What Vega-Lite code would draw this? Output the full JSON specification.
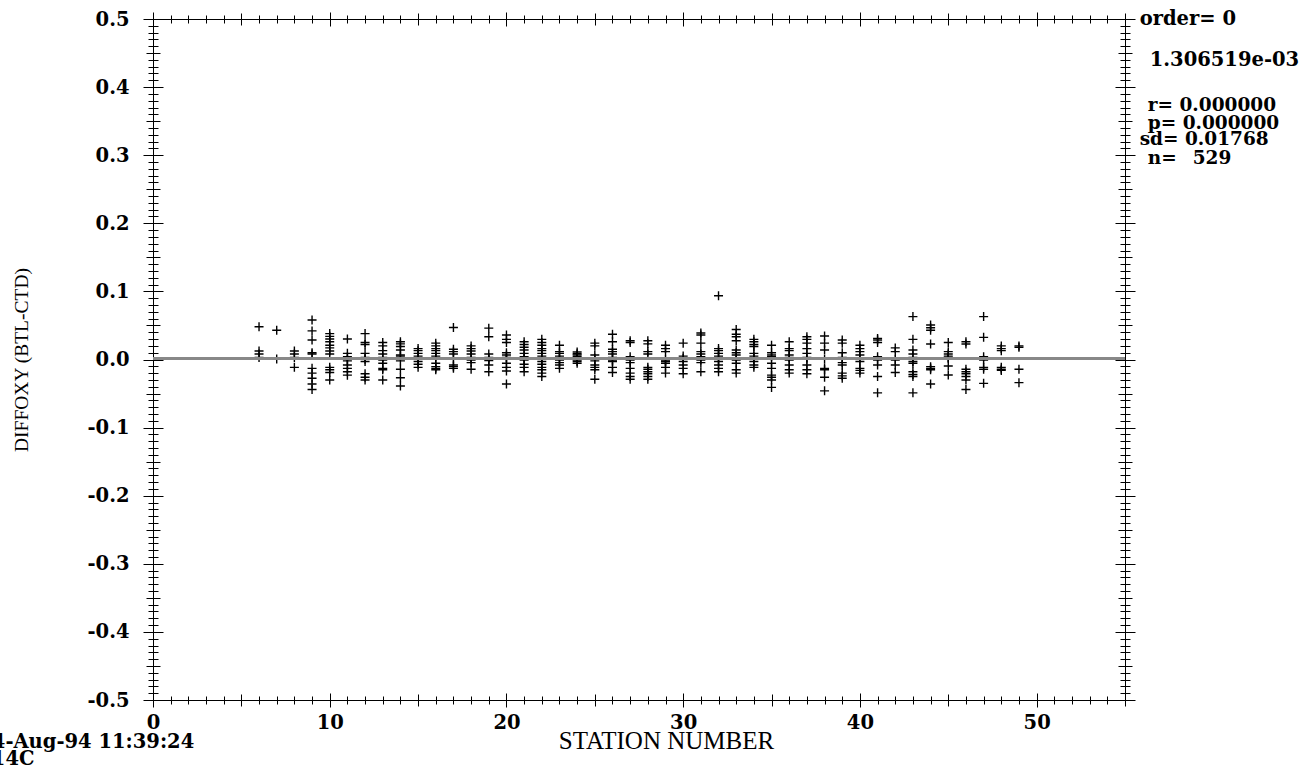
{
  "$schema": "https://vega.github.io/schema/vega-lite/v6.json",
  "autosize": {"type": "none"},
  "padding": {"left": 153, "top": 19, "right": 190, "bottom": 71},
  "width": 972,
  "height": 681,
  "background": "white",
  "config": {
    "view": {"stroke": null},
    "axis": {"grid": false, "domainColor": "black", "tickColor": "black", "domainWidth": 1, "tickWidth": 1, "labelColor": "black", "titleColor": "black"},
    "text": {"font": "DejaVu Serif", "fontWeight": "bold", "fontSize": 19.5, "color": "black", "align": "left", "baseline": "middle"}
  },
  "data": {"values": [
    {"s":6,"v":0.048},{"s":6,"v":0.0125},{"s":6,"v":0.008},{"s":6,"v":0.003},
    {"s":7,"v":0.043},{"s":7,"v":0.0007},
    {"s":8,"v":0.0125},{"s":8,"v":0.008},{"s":8,"v":0.003},{"s":8,"v":-0.0115},
    {"s":9,"v":0.058},{"s":9,"v":0.042},{"s":9,"v":0.0286},{"s":9,"v":0.010},{"s":9,"v":0.008},{"s":9,"v":-0.013},{"s":9,"v":-0.020},{"s":9,"v":-0.0276},{"s":9,"v":-0.036},{"s":9,"v":-0.044},
    {"s":10,"v":0.038},{"s":10,"v":0.034},{"s":10,"v":0.030},{"s":10,"v":0.026},{"s":10,"v":0.021},{"s":10,"v":0.017},{"s":10,"v":0.0125},{"s":10,"v":0.008},{"s":10,"v":-0.0115},{"s":10,"v":-0.015},{"s":10,"v":-0.019},{"s":10,"v":-0.030},
    {"s":11,"v":0.030},{"s":11,"v":0.009},{"s":11,"v":0.004},{"s":11,"v":0.0002},{"s":11,"v":-0.002},{"s":11,"v":-0.008},{"s":11,"v":-0.013},{"s":11,"v":-0.018},{"s":11,"v":-0.023},
    {"s":12,"v":0.038},{"s":12,"v":0.025},{"s":12,"v":0.022},{"s":12,"v":0.009},{"s":12,"v":0.003},{"s":12,"v":0.0002},{"s":12,"v":-0.003},{"s":12,"v":-0.021},{"s":12,"v":-0.026},{"s":12,"v":-0.030},
    {"s":13,"v":0.025},{"s":13,"v":0.020},{"s":13,"v":0.013},{"s":13,"v":0.008},{"s":13,"v":0.003},{"s":13,"v":-0.0007},{"s":13,"v":-0.0056},{"s":13,"v":-0.013},{"s":13,"v":-0.015},{"s":13,"v":-0.030},
    {"s":14,"v":0.026},{"s":14,"v":0.023},{"s":14,"v":0.019},{"s":14,"v":0.014},{"s":14,"v":0.0066},{"s":14,"v":0.005},{"s":14,"v":-0.002},{"s":14,"v":-0.0144},{"s":14,"v":-0.0267},{"s":14,"v":-0.039},
    {"s":15,"v":0.016},{"s":15,"v":0.013},{"s":15,"v":0.009},{"s":15,"v":0.005},{"s":15,"v":0.0007},{"s":15,"v":-0.003},{"s":15,"v":-0.007},{"s":15,"v":-0.0115},
    {"s":16,"v":0.024},{"s":16,"v":0.020},{"s":16,"v":0.016},{"s":16,"v":0.013},{"s":16,"v":0.009},{"s":16,"v":0.005},{"s":16,"v":0.0017},{"s":16,"v":-0.0056},{"s":16,"v":-0.0105},{"s":16,"v":-0.013},{"s":16,"v":-0.015},
    {"s":17,"v":0.047},{"s":17,"v":0.015},{"s":17,"v":0.0115},{"s":17,"v":0.008},{"s":17,"v":0.0017},{"s":17,"v":-0.008},{"s":17,"v":-0.0105},{"s":17,"v":-0.013},
    {"s":18,"v":0.020},{"s":18,"v":0.016},{"s":18,"v":0.0125},{"s":18,"v":0.008},{"s":18,"v":0.003},{"s":18,"v":-0.0007},{"s":18,"v":-0.0046},{"s":18,"v":-0.0144},
    {"s":19,"v":0.046},{"s":19,"v":0.0335},{"s":19,"v":0.008},{"s":19,"v":0.003},{"s":19,"v":0.0002},{"s":19,"v":-0.0017},{"s":19,"v":-0.008},{"s":19,"v":-0.018},
    {"s":20,"v":0.036},{"s":20,"v":0.0296},{"s":20,"v":0.025},{"s":20,"v":0.010},{"s":20,"v":0.0066},{"s":20,"v":0.003},{"s":20,"v":0.0007},{"s":20,"v":-0.0056},{"s":20,"v":-0.0115},{"s":20,"v":-0.0169},{"s":20,"v":-0.036},
    {"s":21,"v":0.026},{"s":21,"v":0.022},{"s":21,"v":0.018},{"s":21,"v":0.014},{"s":21,"v":0.009},{"s":21,"v":0.004},{"s":21,"v":0.0012},{"s":21,"v":-0.0007},{"s":21,"v":-0.007},{"s":21,"v":-0.0115},{"s":21,"v":-0.018},
    {"s":22,"v":0.0296},{"s":22,"v":0.025},{"s":22,"v":0.021},{"s":22,"v":0.016},{"s":22,"v":0.013},{"s":22,"v":0.009},{"s":22,"v":0.005},{"s":22,"v":0.0012},{"s":22,"v":-0.003},{"s":22,"v":-0.007},{"s":22,"v":-0.0115},{"s":22,"v":-0.015},{"s":22,"v":-0.020},{"s":22,"v":-0.025},
    {"s":23,"v":0.021},{"s":23,"v":0.0115},{"s":23,"v":0.009},{"s":23,"v":0.005},{"s":23,"v":-0.0007},{"s":23,"v":-0.0046},{"s":23,"v":-0.008},{"s":23,"v":-0.013},
    {"s":24,"v":0.011},{"s":24,"v":0.0085},{"s":24,"v":0.0066},{"s":24,"v":0.004},{"s":24,"v":0.0017},{"s":24,"v":-0.0007},{"s":24,"v":-0.003},{"s":24,"v":-0.0056},
    {"s":25,"v":0.024},{"s":25,"v":0.020},{"s":25,"v":0.0066},{"s":25,"v":0.0017},{"s":25,"v":-0.002},{"s":25,"v":-0.008},{"s":25,"v":-0.0115},{"s":25,"v":-0.015},{"s":25,"v":-0.029},
    {"s":26,"v":0.037},{"s":26,"v":0.026},{"s":26,"v":0.015},{"s":26,"v":0.0115},{"s":26,"v":0.008},{"s":26,"v":0.003},{"s":26,"v":-0.0007},{"s":26,"v":-0.003},{"s":26,"v":-0.0115},{"s":26,"v":-0.019},
    {"s":27,"v":0.0276},{"s":27,"v":0.025},{"s":27,"v":0.004},{"s":27,"v":-0.0007},{"s":27,"v":-0.0046},{"s":27,"v":-0.013},{"s":27,"v":-0.020},{"s":27,"v":-0.025},{"s":27,"v":-0.029},
    {"s":28,"v":0.0276},{"s":28,"v":0.023},{"s":28,"v":0.0115},{"s":28,"v":0.008},{"s":28,"v":-0.0115},{"s":28,"v":-0.0144},{"s":28,"v":-0.018},{"s":28,"v":-0.021},{"s":28,"v":-0.025},{"s":28,"v":-0.029},
    {"s":29,"v":0.021},{"s":29,"v":0.016},{"s":29,"v":0.0115},{"s":29,"v":-0.0007},{"s":29,"v":-0.003},{"s":29,"v":-0.0056},{"s":29,"v":-0.0115},{"s":29,"v":-0.020},
    {"s":30,"v":0.024},{"s":30,"v":0.005},{"s":30,"v":0.0017},{"s":30,"v":-0.003},{"s":30,"v":-0.008},{"s":30,"v":-0.013},{"s":30,"v":-0.021},
    {"s":31,"v":0.039},{"s":31,"v":0.036},{"s":31,"v":0.024},{"s":31,"v":0.0115},{"s":31,"v":0.008},{"s":31,"v":0.004},{"s":31,"v":-0.0007},{"s":31,"v":-0.0046},{"s":31,"v":-0.018},
    {"s":32,"v":0.0936},{"s":32,"v":0.016},{"s":32,"v":0.013},{"s":32,"v":0.009},{"s":32,"v":0.005},{"s":32,"v":0.0002},{"s":32,"v":-0.003},{"s":32,"v":-0.008},{"s":32,"v":-0.013},{"s":32,"v":-0.018},
    {"s":33,"v":0.044},{"s":33,"v":0.037},{"s":33,"v":0.0335},{"s":33,"v":0.0276},{"s":33,"v":0.014},{"s":33,"v":0.010},{"s":33,"v":0.0066},{"s":33,"v":-0.0007},{"s":33,"v":-0.0056},{"s":33,"v":-0.015},{"s":33,"v":-0.020},
    {"s":34,"v":0.0296},{"s":34,"v":0.026},{"s":34,"v":0.022},{"s":34,"v":0.019},{"s":34,"v":0.009},{"s":34,"v":0.005},{"s":34,"v":0.0017},{"s":34,"v":-0.003},{"s":34,"v":-0.008},{"s":34,"v":-0.0115},
    {"s":35,"v":0.021},{"s":35,"v":0.010},{"s":35,"v":0.0066},{"s":35,"v":0.004},{"s":35,"v":-0.0056},{"s":35,"v":-0.013},{"s":35,"v":-0.023},{"s":35,"v":-0.026},{"s":35,"v":-0.030},{"s":35,"v":-0.041},
    {"s":36,"v":0.026},{"s":36,"v":0.016},{"s":36,"v":0.013},{"s":36,"v":0.0066},{"s":36,"v":0.003},{"s":36,"v":-0.0007},{"s":36,"v":-0.008},{"s":36,"v":-0.015},{"s":36,"v":-0.020},
    {"s":37,"v":0.0335},{"s":37,"v":0.0296},{"s":37,"v":0.024},{"s":37,"v":0.016},{"s":37,"v":0.009},{"s":37,"v":0.003},{"s":37,"v":0.0002},{"s":37,"v":-0.008},{"s":37,"v":-0.015},{"s":37,"v":-0.021},
    {"s":38,"v":0.0345},{"s":38,"v":0.024},{"s":38,"v":0.014},{"s":38,"v":0.0002},{"s":38,"v":-0.013},{"s":38,"v":-0.015},{"s":38,"v":-0.026},{"s":38,"v":-0.046},
    {"s":39,"v":0.0286},{"s":39,"v":0.024},{"s":39,"v":0.010},{"s":39,"v":0.003},{"s":39,"v":-0.0046},{"s":39,"v":-0.008},{"s":39,"v":-0.020},{"s":39,"v":-0.024},{"s":39,"v":-0.0276},
    {"s":40,"v":0.021},{"s":40,"v":0.016},{"s":40,"v":0.0115},{"s":40,"v":0.0066},{"s":40,"v":0.0002},{"s":40,"v":-0.003},{"s":40,"v":-0.013},{"s":40,"v":-0.016},{"s":40,"v":-0.020},
    {"s":41,"v":0.031},{"s":41,"v":0.0286},{"s":41,"v":0.025},{"s":41,"v":0.004},{"s":41,"v":-0.0007},{"s":41,"v":-0.008},{"s":41,"v":-0.025},{"s":41,"v":-0.049},
    {"s":42,"v":0.017},{"s":42,"v":0.0115},{"s":42,"v":-0.0007},{"s":42,"v":-0.008},{"s":42,"v":-0.019},
    {"s":43,"v":0.063},{"s":43,"v":0.0296},{"s":43,"v":0.014},{"s":43,"v":0.008},{"s":43,"v":0.003},{"s":43,"v":-0.003},{"s":43,"v":-0.0056},{"s":43,"v":-0.018},{"s":43,"v":-0.022},{"s":43,"v":-0.025},{"s":43,"v":-0.049},
    {"s":44,"v":0.0506},{"s":44,"v":0.0467},{"s":44,"v":0.043},{"s":44,"v":0.0227},{"s":44,"v":-0.0105},{"s":44,"v":-0.013},{"s":44,"v":-0.015},{"s":44,"v":-0.036},
    {"s":45,"v":0.025},{"s":45,"v":0.0115},{"s":45,"v":0.008},{"s":45,"v":0.005},{"s":45,"v":0.003},{"s":45,"v":0.0017},{"s":45,"v":-0.0095},{"s":45,"v":-0.0227},
    {"s":46,"v":0.026},{"s":46,"v":0.0227},{"s":46,"v":-0.0144},{"s":46,"v":-0.018},{"s":46,"v":-0.021},{"s":46,"v":-0.025},{"s":46,"v":-0.030},{"s":46,"v":-0.044},
    {"s":47,"v":0.063},{"s":47,"v":0.0325},{"s":47,"v":0.004},{"s":47,"v":-0.0007},{"s":47,"v":-0.0115},{"s":47,"v":-0.0144},{"s":47,"v":-0.035},
    {"s":48,"v":0.020},{"s":48,"v":0.016},{"s":48,"v":0.013},{"s":48,"v":-0.0115},{"s":48,"v":-0.0144},{"s":48,"v":-0.016},
    {"s":49,"v":0.020},{"s":49,"v":0.018},{"s":49,"v":-0.0144},{"s":49,"v":-0.034}
  ]},
  "resolve": {"axis": {"x": "independent", "y": "independent"}},
  "layer": [
    {
      "mark": {"type": "point", "shape": "M-1,0L1,0M0,-1L0,1", "filled": false, "size": 81, "strokeWidth": 1.4, "color": "black", "opacity": 1},
      "encoding": {
        "x": {"field": "s", "type": "quantitative", "scale": {"domain": [0, 55], "nice": false, "zero": false},
          "axis": {"orient": "bottom", "values": [0,1,2,3,4,5,6,7,8,9,10,11,12,13,14,15,16,17,18,19,20,21,22,23,24,25,26,27,28,29,30,31,32,33,34,35,36,37,38,39,40,41,42,43,44,45,46,47,48,49,50,51,52,53,54,55],
            "tickSize": {"condition": [{"test": "datum.value % 10 === 0", "value": 7}, {"test": "datum.value % 5 === 0", "value": 6}], "value": 4},
            "labelExpr": "datum.value % 10 === 0 ? datum.label : ''",
            "labelFont": "DejaVu Serif", "labelFontWeight": "bold", "labelFontSize": 19.5, "labelPadding": 6, "labelFlush": false, "labelOverlap": false,
            "title": "STATION NUMBER", "titleFont": "Liberation Serif", "titleFontWeight": "normal", "titleFontSize": 25,
            "titleX": 513, "titleY": 48, "titleBaseline": "alphabetic", "titleAlign": "center", "titleAnchor": null}},
        "y": {"field": "v", "type": "quantitative", "scale": {"domain": [-0.5, 0.5], "nice": false, "zero": false},
          "axis": {"orient": "left", "values": [-0.5,-0.49,-0.48,-0.47,-0.46,-0.45,-0.44,-0.43,-0.42,-0.41,-0.4,-0.39,-0.38,-0.37,-0.36,-0.35,-0.34,-0.33,-0.32,-0.31,-0.3,-0.29,-0.28,-0.27,-0.26,-0.25,-0.24,-0.23,-0.22,-0.21,-0.2,-0.19,-0.18,-0.17,-0.16,-0.15,-0.14,-0.13,-0.12,-0.11,-0.1,-0.09,-0.08,-0.07,-0.06,-0.05,-0.04,-0.03,-0.02,-0.01,0,0.01,0.02,0.03,0.04,0.05,0.06,0.07,0.08,0.09,0.1,0.11,0.12,0.13,0.14,0.15,0.16,0.17,0.18,0.19,0.2,0.21,0.22,0.23,0.24,0.25,0.26,0.27,0.28,0.29,0.3,0.31,0.32,0.33,0.34,0.35,0.36,0.37,0.38,0.39,0.4,0.41,0.42,0.43,0.44,0.45,0.46,0.47,0.48,0.49,0.5],
            "tickSize": {"condition": [{"test": "abs(round(datum.value*100)) % 10 === 0", "value": 10}, {"test": "abs(round(datum.value*100)) % 5 === 0", "value": 7}], "value": 5},
            "labelExpr": "abs(round(datum.value*100)) % 10 === 0 ? (datum.value < -0.001 ? '-' : '') + format(abs(datum.value), '.1f') : ''",
            "labelFont": "DejaVu Serif", "labelFontWeight": "bold", "labelFontSize": 19.5, "labelPadding": 14, "labelFlush": false, "labelOverlap": false,
            "title": "DIFFOXY (BTL-CTD)", "titleFont": "Liberation Serif", "titleFontWeight": "normal", "titleFontSize": 19.5,
            "titleX": -132, "titleY": 340.5, "titleAngle": -90, "titleBaseline": "middle", "titleAlign": "center", "titleAnchor": null}}
      }
    },
    {
      "mark": {"type": "rule", "color": "#888888", "strokeWidth": 1.5},
      "encoding": {"y": {"datum": 0.001306519, "type": "quantitative", "axis": null}}
    },
    {
      "data": {"values": [{}]},
      "mark": {"type": "point", "opacity": 0},
      "encoding": {
        "x": {"datum": 0, "type": "quantitative",
          "axis": {"orient": "top", "values": [0,1,2,3,4,5,6,7,8,9,10,11,12,13,14,15,16,17,18,19,20,21,22,23,24,25,26,27,28,29,30,31,32,33,34,35,36,37,38,39,40,41,42,43,44,45,46,47,48,49,50,51,52,53,54,55],
            "tickSize": {"condition": [{"test": "datum.value % 10 === 0", "value": 7}, {"test": "datum.value % 5 === 0", "value": 6}], "value": 4},
            "labels": false, "title": null}},
        "y": {"datum": 0, "type": "quantitative",
          "axis": {"orient": "right", "values": [-0.5,-0.49,-0.48,-0.47,-0.46,-0.45,-0.44,-0.43,-0.42,-0.41,-0.4,-0.39,-0.38,-0.37,-0.36,-0.35,-0.34,-0.33,-0.32,-0.31,-0.3,-0.29,-0.28,-0.27,-0.26,-0.25,-0.24,-0.23,-0.22,-0.21,-0.2,-0.19,-0.18,-0.17,-0.16,-0.15,-0.14,-0.13,-0.12,-0.11,-0.1,-0.09,-0.08,-0.07,-0.06,-0.05,-0.04,-0.03,-0.02,-0.01,0,0.01,0.02,0.03,0.04,0.05,0.06,0.07,0.08,0.09,0.1,0.11,0.12,0.13,0.14,0.15,0.16,0.17,0.18,0.19,0.2,0.21,0.22,0.23,0.24,0.25,0.26,0.27,0.28,0.29,0.3,0.31,0.32,0.33,0.34,0.35,0.36,0.37,0.38,0.39,0.4,0.41,0.42,0.43,0.44,0.45,0.46,0.47,0.48,0.49,0.5],
            "tickSize": {"condition": [{"test": "abs(round(datum.value*100)) % 10 === 0", "value": 10}, {"test": "abs(round(datum.value*100)) % 5 === 0", "value": 7}], "value": 5},
            "labels": false, "title": null}}
      }
    },
    {
      "data": {"values": [{}]},
      "mark": {"type": "point", "opacity": 0},
      "encoding": {
        "x": {"datum": 0, "type": "quantitative",
          "axis": {"orient": "bottom", "domain": false, "values": [0,1,2,3,4,5,6,7,8,9,10,11,12,13,14,15,16,17,18,19,20,21,22,23,24,25,26,27,28,29,30,31,32,33,34,35,36,37,38,39,40,41,42,43,44,45,46,47,48,49,50,51,52,53,54,55],
            "tickSize": {"condition": [{"test": "datum.value % 10 === 0", "value": -7}, {"test": "datum.value % 5 === 0", "value": -6}], "value": -4},
            "labels": false, "title": null}},
        "y": {"datum": 0, "type": "quantitative",
          "axis": {"orient": "left", "domain": false, "values": [-0.5,-0.49,-0.48,-0.47,-0.46,-0.45,-0.44,-0.43,-0.42,-0.41,-0.4,-0.39,-0.38,-0.37,-0.36,-0.35,-0.34,-0.33,-0.32,-0.31,-0.3,-0.29,-0.28,-0.27,-0.26,-0.25,-0.24,-0.23,-0.22,-0.21,-0.2,-0.19,-0.18,-0.17,-0.16,-0.15,-0.14,-0.13,-0.12,-0.11,-0.1,-0.09,-0.08,-0.07,-0.06,-0.05,-0.04,-0.03,-0.02,-0.01,0,0.01,0.02,0.03,0.04,0.05,0.06,0.07,0.08,0.09,0.1,0.11,0.12,0.13,0.14,0.15,0.16,0.17,0.18,0.19,0.2,0.21,0.22,0.23,0.24,0.25,0.26,0.27,0.28,0.29,0.3,0.31,0.32,0.33,0.34,0.35,0.36,0.37,0.38,0.39,0.4,0.41,0.42,0.43,0.44,0.45,0.46,0.47,0.48,0.49,0.5],
            "tickSize": {"condition": [{"test": "abs(round(datum.value*100)) % 10 === 0", "value": -10}, {"test": "abs(round(datum.value*100)) % 5 === 0", "value": -7}], "value": -5},
            "labels": false, "title": null}}
      }
    },
    {
      "data": {"values": [{}]},
      "mark": {"type": "point", "opacity": 0},
      "encoding": {
        "x": {"datum": 0, "type": "quantitative",
          "axis": {"orient": "top", "domain": false, "values": [0,1,2,3,4,5,6,7,8,9,10,11,12,13,14,15,16,17,18,19,20,21,22,23,24,25,26,27,28,29,30,31,32,33,34,35,36,37,38,39,40,41,42,43,44,45,46,47,48,49,50,51,52,53,54,55],
            "tickSize": {"condition": [{"test": "datum.value % 10 === 0", "value": -7}, {"test": "datum.value % 5 === 0", "value": -6}], "value": -4},
            "labels": false, "title": null}},
        "y": {"datum": 0, "type": "quantitative",
          "axis": {"orient": "right", "domain": false, "values": [-0.5,-0.49,-0.48,-0.47,-0.46,-0.45,-0.44,-0.43,-0.42,-0.41,-0.4,-0.39,-0.38,-0.37,-0.36,-0.35,-0.34,-0.33,-0.32,-0.31,-0.3,-0.29,-0.28,-0.27,-0.26,-0.25,-0.24,-0.23,-0.22,-0.21,-0.2,-0.19,-0.18,-0.17,-0.16,-0.15,-0.14,-0.13,-0.12,-0.11,-0.1,-0.09,-0.08,-0.07,-0.06,-0.05,-0.04,-0.03,-0.02,-0.01,0,0.01,0.02,0.03,0.04,0.05,0.06,0.07,0.08,0.09,0.1,0.11,0.12,0.13,0.14,0.15,0.16,0.17,0.18,0.19,0.2,0.21,0.22,0.23,0.24,0.25,0.26,0.27,0.28,0.29,0.3,0.31,0.32,0.33,0.34,0.35,0.36,0.37,0.38,0.39,0.4,0.41,0.42,0.43,0.44,0.45,0.46,0.47,0.48,0.49,0.5],
            "tickSize": {"condition": [{"test": "abs(round(datum.value*100)) % 10 === 0", "value": -10}, {"test": "abs(round(datum.value*100)) % 5 === 0", "value": -7}], "value": -5},
            "labels": false, "title": null}}
      }
    },
    {
      "data": {"values": [{}]},
      "mark": {"type": "text", "text": "order= 0"},
      "encoding": {"x": {"datum": 55.83, "type": "quantitative", "axis": null}, "y": {"datum": 0.5, "type": "quantitative", "axis": null}}
    },
    {
      "data": {"values": [{}]},
      "mark": {"type": "text", "text": "1.306519e-03"},
      "encoding": {"x": {"datum": 56.4, "type": "quantitative", "axis": null}, "y": {"datum": 0.4398, "type": "quantitative", "axis": null}}
    },
    {
      "data": {"values": [{}]},
      "mark": {"type": "text", "text": "r= 0.000000", "fontSize": 18.5},
      "encoding": {"x": {"datum": 56.29, "type": "quantitative", "axis": null}, "y": {"datum": 0.3744, "type": "quantitative", "axis": null}}
    },
    {
      "data": {"values": [{}]},
      "mark": {"type": "text", "text": "p= 0.000000", "fontSize": 18.5},
      "encoding": {"x": {"datum": 56.29, "type": "quantitative", "axis": null}, "y": {"datum": 0.348, "type": "quantitative", "axis": null}}
    },
    {
      "data": {"values": [{}]},
      "mark": {"type": "text", "text": "sd= 0.01768", "fontSize": 18.5},
      "encoding": {"x": {"datum": 55.83, "type": "quantitative", "axis": null}, "y": {"datum": 0.3231, "type": "quantitative", "axis": null}}
    },
    {
      "data": {"values": [{}]},
      "mark": {"type": "text", "text": "n=", "fontSize": 18.5},
      "encoding": {"x": {"datum": 56.29, "type": "quantitative", "axis": null}, "y": {"datum": 0.2966, "type": "quantitative", "axis": null}}
    },
    {
      "data": {"values": [{}]},
      "mark": {"type": "text", "text": "529", "fontSize": 18.5},
      "encoding": {"x": {"datum": 58.83, "type": "quantitative", "axis": null}, "y": {"datum": 0.2966, "type": "quantitative", "axis": null}}
    },
    {
      "data": {"values": [{}]},
      "mark": {"type": "text", "text": ["4-Aug-94 11:39:24", "14C"], "lineHeight": 16.5},
      "encoding": {"x": {"datum": -9.12, "type": "quantitative", "axis": null}, "y": {"datum": -0.5617, "type": "quantitative", "axis": null}}
    }
  ]
}
